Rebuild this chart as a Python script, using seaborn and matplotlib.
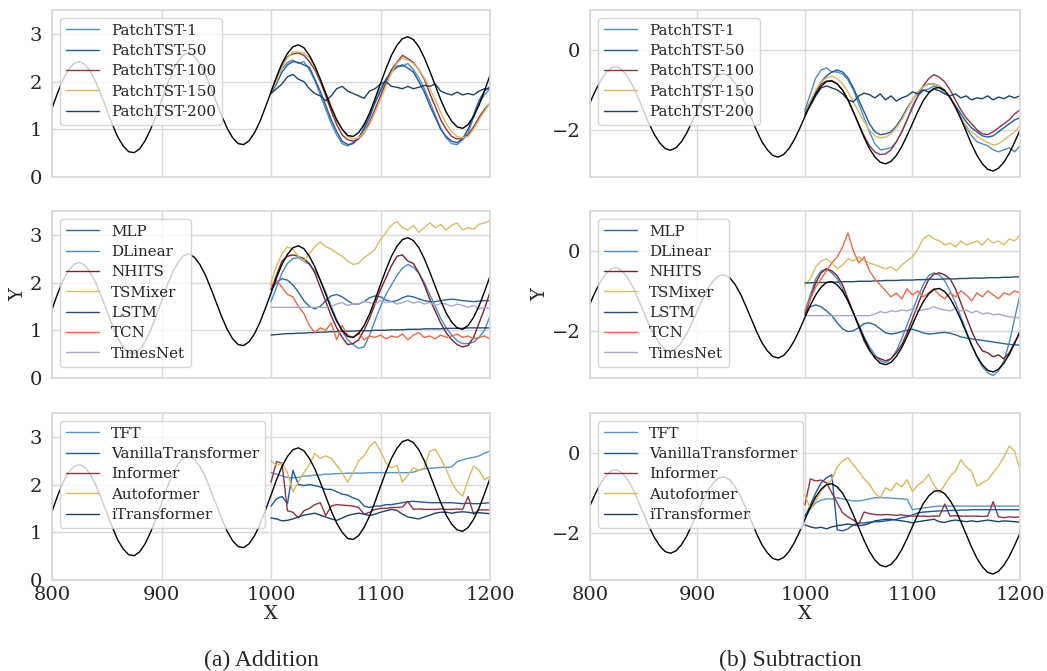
import matplotlib
matplotlib.use("Agg")
import matplotlib.pyplot as plt
import numpy as np
import seaborn as sns

# x positions (history 800-1200, forecasts 1000-1200)
x_truth = np.arange(800, 1201, 5)
x_pred = np.arange(1000, 1201, 5)

# ground truth
truth_add = [1.44, 1.76, 2.04, 2.25, 2.38, 2.42, 2.36, 2.21, 1.99, 1.71,
             1.41, 1.11, 0.84, 0.65, 0.53, 0.51, 0.59, 0.76, 1.00, 1.29,
             1.61, 1.93, 2.21, 2.42, 2.56, 2.60, 2.53, 2.38, 2.16, 1.88,
             1.58, 1.28, 1.02, 0.82, 0.70, 0.68, 0.76, 0.93, 1.17, 1.47,
             1.78, 2.10, 2.38, 2.59, 2.73, 2.77, 2.71, 2.55, 2.33, 2.05,
             1.75, 1.45, 1.19, 1.00, 0.87, 0.85, 0.93, 1.10, 1.34, 1.64,
             1.96, 2.27, 2.55, 2.76, 2.90, 2.94, 2.88, 2.73, 2.50, 2.22,
             1.92, 1.62, 1.36, 1.17, 1.05, 1.02, 1.10, 1.27, 1.51, 1.81,
             2.13]
truth_sub = [-1.32, -1.02, -0.76, -0.57, -0.44, -0.42, -0.50, -0.67, -0.91, -1.21,
             -1.53, -1.85, -2.12, -2.33, -2.47, -2.51, -2.45, -2.30, -2.08, -1.79,
             -1.49, -1.19, -0.93, -0.74, -0.62, -0.60, -0.67, -0.84, -1.08, -1.38,
             -1.70, -2.02, -2.30, -2.50, -2.64, -2.68, -2.62, -2.47, -2.25, -1.97,
             -1.66, -1.36, -1.10, -0.91, -0.79, -0.77, -0.85, -1.01, -1.25, -1.55,
             -1.87, -2.19, -2.47, -2.68, -2.81, -2.85, -2.79, -2.64, -2.42, -2.14,
             -1.84, -1.54, -1.27, -1.08, -0.96, -0.94, -1.02, -1.19, -1.43, -1.72,
             -2.04, -2.36, -2.64, -2.85, -2.99, -3.03, -2.96, -2.81, -2.59, -2.31,
             -2.01]

# ---- row 1: PatchTST with different patch sizes ----
patch_names = ["PatchTST-1", "PatchTST-50", "PatchTST-100", "PatchTST-150", "PatchTST-200"]
patch_colors = ["#4f8dbb", "#1f5aa0", "#8f3445", "#dcb95f", "#1d4266"]

p1_add = [1.80, 2.05, 2.28, 2.40, 2.45, 2.38, 2.42, 2.25, 2.02, 1.72,
          1.42, 1.12, 0.88, 0.70, 0.65, 0.72, 0.80, 1.05, 1.30, 1.58,
          1.85, 2.05, 2.22, 2.33, 2.32, 2.38, 2.25, 2.08, 1.85, 1.58,
          1.30, 1.02, 0.82, 0.70, 0.68, 0.78, 0.92, 1.25, 1.55, 1.72,
          1.85]
p50_add = [1.75, 1.95, 2.20, 2.35, 2.42, 2.40, 2.35, 2.30, 2.05, 1.80,
           1.50, 1.20, 0.95, 0.75, 0.68, 0.70, 0.82, 1.00, 1.25, 1.55,
           1.80, 2.05, 2.20, 2.30, 2.35, 2.28, 2.20, 2.00, 1.78, 1.50,
           1.25, 1.00, 0.85, 0.75, 0.72, 0.80, 1.00, 1.30, 1.60, 1.80,
           1.90]
p100_add = [1.78, 2.05, 2.35, 2.52, 2.58, 2.60, 2.55, 2.42, 2.25, 2.00,
            1.70, 1.38, 1.10, 0.88, 0.78, 0.75, 0.80, 0.92, 1.15, 1.42,
            1.70, 1.98, 2.25, 2.40, 2.55, 2.48, 2.40, 2.25, 2.05, 1.75,
            1.48, 1.20, 1.00, 0.85, 0.80, 0.80, 0.88, 1.05, 1.25, 1.42,
            1.55]
p150_add = [1.78, 2.00, 2.30, 2.50, 2.62, 2.62, 2.60, 2.50, 2.30, 2.05,
            1.78, 1.50, 1.22, 1.00, 0.85, 0.80, 0.82, 0.92, 1.10, 1.35,
            1.62, 1.90, 2.18, 2.38, 2.50, 2.45, 2.38, 2.25, 2.08, 1.85,
            1.62, 1.35, 1.12, 0.95, 0.85, 0.82, 0.85, 1.00, 1.20, 1.38,
            1.55]
p200_add = [1.75, 1.85, 1.95, 2.10, 2.15, 2.05, 2.00, 1.85, 1.75, 1.70,
            1.60, 1.70, 1.85, 1.90, 1.80, 1.75, 1.70, 1.65, 1.80, 1.85,
            1.95, 2.00, 1.90, 1.88, 1.85, 1.90, 1.85, 1.88, 1.92, 1.90,
            1.95, 1.80, 1.75, 1.72, 1.78, 1.72, 1.75, 1.72, 1.80, 1.85,
            1.85]

p1_sub = [-1.50, -1.10, -0.70, -0.50, -0.45, -0.55, -0.55, -0.60, -0.75, -1.00,
          -1.35, -1.70, -2.05, -2.35, -2.50, -2.48, -2.45, -2.30, -2.05, -1.75,
          -1.40, -1.15, -1.02, -0.98, -0.90, -0.95, -1.05, -1.20, -1.45, -1.70,
          -1.95, -2.15, -2.30, -2.35, -2.40, -2.50, -2.55, -2.50, -2.45, -2.55,
          -2.40]
p50_sub = [-1.55, -1.30, -1.05, -0.80, -0.65, -0.55, -0.50, -0.55, -0.70, -0.95,
           -1.25, -1.55, -1.85, -2.05, -2.12, -2.10, -2.05, -1.90, -1.70, -1.45,
           -1.25, -1.05, -0.92, -0.85, -0.85, -0.90, -1.00, -1.20, -1.40, -1.60,
           -1.80, -1.95, -2.05, -2.15, -2.18, -2.15, -2.05, -1.95, -1.85, -1.75,
           -1.70]
p100_sub = [-1.65, -1.35, -1.05, -0.85, -0.78, -0.78, -0.85, -1.00, -1.25, -1.55,
            -1.85, -2.15, -2.40, -2.55, -2.62, -2.60, -2.50, -2.30, -2.05, -1.75,
            -1.45, -1.15, -0.90, -0.72, -0.62, -0.68, -0.80, -1.00, -1.25, -1.50,
            -1.70, -1.85, -2.00, -2.10, -2.12, -2.05, -1.95, -1.85, -1.75, -1.60,
            -1.50]
p150_sub = [-1.60, -1.30, -1.00, -0.80, -0.70, -0.65, -0.72, -0.85, -1.05, -1.30,
            -1.55, -1.80, -2.00, -2.15, -2.20, -2.18, -2.10, -1.95, -1.75, -1.50,
            -1.25, -1.05, -0.92, -0.85, -0.85, -0.90, -1.02, -1.20, -1.45, -1.70,
            -1.90, -2.05, -2.15, -2.25, -2.32, -2.38, -2.35, -2.25, -2.15, -2.05,
            -1.90]
p200_sub = [-1.60, -1.40, -1.15, -0.95, -0.90, -0.95, -1.00, -1.10, -1.25, -1.30,
            -1.15, -1.08, -1.12, -1.20, -1.10, -1.25, -1.15, -1.28, -1.20, -1.15,
            -1.05, -1.10, -1.00, -1.05, -0.98, -1.02, -1.10, -1.15, -1.10, -1.20,
            -1.15, -1.25, -1.20, -1.22, -1.15, -1.25, -1.18, -1.22, -1.15, -1.20,
            -1.15]

# ---- row 2: MLP / linear / conv / recurrent models ----
base_names = ["MLP", "DLinear", "NHITS", "TSMixer", "LSTM", "TCN", "TimesNet"]
base_colors = ["#2b64a0", "#4a8cc2", "#7b2131", "#d9bd62", "#284a6c", "#ec6a4b", "#aba7c9"]

mlp_add = [1.85, 2.00, 2.08, 2.05, 1.95, 1.80, 1.62, 1.50, 1.45, 1.50,
           1.62, 1.72, 1.75, 1.70, 1.62, 1.55, 1.55, 1.60, 1.68, 1.72,
           1.70, 1.63, 1.60, 1.62, 1.68, 1.72, 1.70, 1.66, 1.62, 1.60,
           1.60, 1.62, 1.64, 1.65, 1.64, 1.62, 1.61, 1.60, 1.61, 1.62,
           1.62]
dlinear_add = [1.60, 1.90, 2.20, 2.40, 2.50, 2.52, 2.45, 2.38, 2.25, 2.05,
               1.80, 1.50, 1.22, 0.98, 0.80, 0.70, 0.62, 0.65, 0.90, 1.20,
               1.50, 1.75, 1.95, 2.15, 2.30, 2.38, 2.32, 2.20, 2.00, 1.75,
               1.50, 1.25, 1.05, 0.90, 0.78, 0.72, 0.72, 0.75, 0.85, 1.00,
               1.30]
nhits_add = [1.85, 2.15, 2.45, 2.55, 2.58, 2.55, 2.50, 2.40, 2.20, 1.90,
             1.60, 1.30, 1.05, 0.85, 0.70, 0.72, 0.80, 1.00, 1.25, 1.55,
             1.85, 2.10, 2.35, 2.55, 2.58, 2.45, 2.40, 2.20, 1.95, 1.65,
             1.40, 1.15, 0.95, 0.80, 0.70, 0.65, 0.68, 0.85, 1.15, 1.45,
             1.80]
tsmixer_add = [2.00, 2.35, 2.60, 2.75, 2.70, 2.55, 2.45, 2.60, 2.75, 2.85,
               2.75, 2.70, 2.62, 2.55, 2.45, 2.38, 2.40, 2.52, 2.60, 2.70,
               2.90, 3.05, 3.20, 3.28, 3.15, 3.10, 3.20, 3.05, 3.15, 3.25,
               3.15, 3.22, 3.10, 3.20, 3.25, 3.10, 3.15, 3.12, 3.22, 3.25,
               3.30]
lstm_add = [0.90, 0.91, 0.92, 0.93, 0.93, 0.94, 0.94, 0.95, 0.95, 0.96,
            0.96, 0.97, 0.97, 0.98, 0.98, 0.98, 0.99, 0.99, 0.99, 1.00,
            1.00, 1.00, 1.01, 1.01, 1.01, 1.02, 1.02, 1.02, 1.03, 1.03,
            1.03, 1.03, 1.04, 1.04, 1.04, 1.04, 1.05, 1.05, 1.05, 1.05,
            1.05]
tcn_add = [1.95, 2.05, 1.90, 1.75, 1.70, 1.50, 1.35, 1.10, 0.95, 1.05,
           1.00, 1.15, 0.80, 1.10, 0.90, 0.85, 0.95, 0.80, 0.88, 0.85,
           0.90, 0.82, 0.88, 0.85, 0.92, 0.80, 0.90, 0.95, 0.85, 0.88,
           0.82, 0.90, 0.85, 0.88, 0.92, 0.85, 0.88, 0.82, 0.85, 0.88,
           0.82]
timesnet_add = [1.48, 1.48, 1.48, 1.48, 1.48, 1.48, 1.48, 1.48, 1.48, 1.48,
                1.48, 1.50, 1.55, 1.58, 1.52, 1.56, 1.55, 1.60, 1.58, 1.55,
                1.62, 1.58, 1.60, 1.55, 1.58, 1.62, 1.57, 1.60, 1.55, 1.58,
                1.52, 1.56, 1.55, 1.50, 1.55, 1.52, 1.48, 1.52, 1.45, 1.48,
                1.45]

mlp_sub = [-1.55, -1.40, -1.35, -1.40, -1.50, -1.62, -1.80, -1.95, -2.02, -2.00,
           -1.92, -1.82, -1.80, -1.85, -1.95, -2.05, -2.08, -2.06, -2.02, -1.98,
           -1.96, -2.00, -2.05, -2.08, -2.07, -2.05, -2.04, -2.06, -2.10, -2.15,
           -2.18, -2.20, -2.22, -2.24, -2.26, -2.28, -2.30, -2.32, -2.34, -2.35,
           -2.36]
dlinear_sub = [-1.50, -1.10, -0.70, -0.50, -0.45, -0.55, -0.70, -0.95, -1.25, -1.55,
               -1.85, -2.15, -2.40, -2.60, -2.75, -2.80, -2.70, -2.50, -2.20, -1.85,
               -1.50, -1.15, -0.85, -0.62, -0.55, -0.60, -0.75, -1.00, -1.30, -1.65,
               -2.00, -2.35, -2.65, -2.90, -3.05, -3.12, -3.00, -2.75, -2.30, -1.70,
               -1.10]
nhits_sub = [-1.60, -1.20, -0.80, -0.55, -0.45, -0.50, -0.62, -0.85, -1.20, -1.55,
             -1.90, -2.25, -2.50, -2.65, -2.70, -2.75, -2.70, -2.55, -2.35, -2.05,
             -1.70, -1.35, -1.00, -0.72, -0.58, -0.55, -0.60, -0.70, -0.95, -1.30,
             -1.65, -2.00, -2.30, -2.50, -2.55, -2.65, -2.60, -2.70, -2.55, -2.30,
             -2.05]
tsmixer_sub = [-0.85, -0.70, -0.40, -0.25, -0.20, -0.30, -0.45, -0.35, -0.20, -0.25,
               -0.15, -0.25, -0.30, -0.35, -0.40, -0.45, -0.40, -0.50, -0.35, -0.25,
               -0.15, 0.05, 0.30, 0.40, 0.30, 0.25, 0.15, 0.20, 0.10, 0.25,
               0.15, 0.20, 0.25, 0.15, 0.30, 0.20, 0.25, 0.15, 0.30, 0.25,
               0.40]
lstm_sub = [-0.80, -0.80, -0.79, -0.79, -0.79, -0.78, -0.78, -0.77, -0.77, -0.77,
            -0.76, -0.76, -0.76, -0.75, -0.75, -0.74, -0.74, -0.74, -0.73, -0.73,
            -0.73, -0.72, -0.72, -0.71, -0.71, -0.71, -0.70, -0.70, -0.70, -0.69,
            -0.69, -0.68, -0.68, -0.68, -0.67, -0.67, -0.67, -0.66, -0.66, -0.65,
            -0.65]
tcn_sub = [-1.50, -1.20, -0.90, -0.70, -0.50, -0.30, -0.15, 0.10, 0.45, 0.00,
           -0.30, -0.15, -0.50, -0.70, -0.85, -1.00, -1.15, -1.05, -1.20, -0.95,
           -1.10, -1.00, -1.15, -1.05, -0.95, -1.10, -1.20, -1.05, -1.15, -1.00,
           -1.10, -1.25, -1.05, -1.15, -1.00, -1.10, -1.20, -1.05, -1.10, -1.00,
           -1.05]
timesnet_sub = [-1.62, -1.62, -1.62, -1.62, -1.62, -1.62, -1.62, -1.62, -1.62, -1.62,
                -1.62, -1.62, -1.62, -1.58, -1.52, -1.55, -1.50, -1.52, -1.48, -1.50,
                -1.45, -1.50, -1.47, -1.45, -1.40, -1.45, -1.48, -1.50, -1.45, -1.50,
                -1.48, -1.55, -1.50, -1.58, -1.55, -1.60, -1.58, -1.62, -1.65, -1.66,
                -1.68]

# ---- row 3: transformer models ----
trans_names = ["TFT", "VanillaTransformer", "Informer", "Autoformer", "iTransformer"]
trans_colors = ["#5a94c0", "#1f58a0", "#8f3445", "#dbb85a", "#1d4266"]

tft_add = [2.25, 2.22, 2.18, 2.15, 2.14, 2.15, 2.18, 2.18, 2.20, 2.20,
           2.22, 2.22, 2.23, 2.23, 2.24, 2.24, 2.24, 2.24, 2.25, 2.25,
           2.25, 2.25, 2.25, 2.25, 2.25, 2.25, 2.26, 2.30, 2.33, 2.34,
           2.35, 2.36, 2.36, 2.37, 2.48, 2.52, 2.55, 2.57, 2.60, 2.66,
           2.70]
vanilla_add = [1.55, 1.70, 1.75, 1.60, 2.30, 2.00, 1.98, 2.00, 1.98, 1.95,
               1.90, 1.90, 1.85, 1.80, 1.78, 1.72, 1.68, 1.55, 1.52, 1.55,
               1.55, 1.58, 1.58, 1.60, 1.62, 1.64, 1.65, 1.64, 1.63, 1.62,
               1.62, 1.62, 1.62, 1.62, 1.61, 1.60, 1.61, 1.60, 1.60, 1.61,
               1.62]
informer_add = [2.05, 2.48, 2.45, 1.45, 1.42, 1.30, 1.45, 1.50, 1.58, 1.62,
                1.35, 1.55, 1.58, 1.57, 1.56, 1.55, 1.52, 1.38, 1.42, 1.48,
                1.50, 1.50, 1.52, 1.52, 1.53, 1.65, 1.48, 1.49, 1.48, 1.48,
                1.48, 1.49, 1.48, 1.48, 1.49, 1.48, 1.75, 1.38, 1.47, 1.47,
                1.47]
autoformer_add = [2.50, 2.40, 2.45, 2.25, 1.85, 2.05, 2.25, 2.42, 2.65, 2.55,
                  2.60, 2.55, 2.40, 2.25, 2.05, 2.25, 2.50, 2.60, 2.80, 2.90,
                  2.70, 2.45, 2.35, 2.40, 2.05, 2.20, 2.35, 2.30, 2.35, 2.70,
                  2.74, 2.55, 2.32, 2.05, 1.86, 1.76, 2.10, 2.39, 2.30, 2.10,
                  2.18]
itrans_add = [1.30, 1.28, 1.24, 1.25, 1.28, 1.32, 1.36, 1.38, 1.40, 1.36,
              1.32, 1.28, 1.25, 1.30, 1.35, 1.38, 1.40, 1.38, 1.35, 1.38,
              1.42, 1.45, 1.48, 1.46, 1.38, 1.32, 1.30, 1.28, 1.32, 1.36,
              1.40, 1.42, 1.42, 1.40, 1.42, 1.43, 1.42, 1.40, 1.41, 1.40,
              1.39]

tft_sub = [-1.55, -1.40, -1.25, -1.18, -1.15, -1.15, -1.12, -1.15, -1.18, -1.20,
           -1.20, -1.18, -1.15, -1.12, -1.12, -1.12, -1.13, -1.14, -1.15, -1.16,
           -1.42, -1.40, -1.38, -1.36, -1.34, -1.33, -1.33, -1.33, -1.33, -1.33,
           -1.33, -1.33, -1.33, -1.33, -1.33, -1.33, -1.33, -1.33, -1.33, -1.33,
           -1.33]
vanilla_sub = [-1.60, -1.30, -1.00, -0.75, -0.62, -0.55, -1.92, -1.95, -1.90, -1.80,
               -1.75, -1.75, -1.73, -1.72, -1.72, -1.70, -1.68, -1.66, -1.62, -1.60,
               -1.55, -1.50, -1.48, -1.47, -1.46, -1.45, -1.45, -1.44, -1.44, -1.43,
               -1.43, -1.42, -1.42, -1.42, -1.42, -1.42, -1.42, -1.42, -1.42, -1.42,
               -1.42]
informer_sub = [-1.30, -0.65, -0.70, -0.68, -0.75, -1.00, -1.25, -1.50, -1.60, -1.68,
                -1.78, -1.48, -1.52, -1.54, -1.55, -1.54, -1.55, -1.56, -1.55, -1.57,
                -1.58, -1.58, -1.58, -1.59, -1.58, -1.58, -1.28, -1.58, -1.57, -1.58,
                -1.58, -1.58, -1.58, -1.59, -1.58, -1.22, -1.60, -1.62, -1.60, -1.61,
                -1.60]
autoformer_sub = [-1.05, -1.40, -1.20, -0.95, -0.80, -0.67, -0.35, -0.20, -0.12, -0.30,
                  -0.46, -0.65, -0.79, -1.00, -1.12, -0.87, -0.95, -0.75, -0.85, -0.67,
                  -0.96, -0.80, -0.71, -0.54, -0.80, -1.00, -0.80, -0.58, -0.45, -0.17,
                  -0.35, -0.46, -0.83, -0.75, -0.67, -0.50, -0.33, -0.10, 0.17, 0.04,
                  -0.42]
itrans_sub = [-1.80, -1.85, -1.88, -1.86, -1.90, -1.85, -1.82, -1.80, -1.78, -1.80,
              -1.82, -1.80, -1.76, -1.70, -1.68, -1.66, -1.66, -1.68, -1.70, -1.72,
              -1.75, -1.72, -1.70, -1.68, -1.66, -1.72, -1.74, -1.70, -1.68, -1.70,
              -1.72, -1.70, -1.72, -1.70, -1.68, -1.70, -1.72, -1.70, -1.71, -1.72,
              -1.73]

rows = [
    (patch_names, patch_colors,
     [p1_add, p50_add, p100_add, p150_add, p200_add],
     [p1_sub, p50_sub, p100_sub, p150_sub, p200_sub]),
    (base_names, base_colors,
     [mlp_add, dlinear_add, nhits_add, tsmixer_add, lstm_add, tcn_add, timesnet_add],
     [mlp_sub, dlinear_sub, nhits_sub, tsmixer_sub, lstm_sub, tcn_sub, timesnet_sub]),
    (trans_names, trans_colors,
     [tft_add, vanilla_add, informer_add, autoformer_add, itrans_add],
     [tft_sub, vanilla_sub, informer_sub, autoformer_sub, itrans_sub]),
]

sns.set_theme(style="whitegrid")
plt.rcParams["font.family"] = ["DejaVu Serif"]
plt.rcParams["axes.edgecolor"] = "#d9d9d9"
plt.rcParams["grid.color"] = "#d9d9d9"

fig = plt.figure(figsize=(10.47, 6.71), dpi=100)

col_x = [0.0497, 0.5635]
col_w = [0.4183, 0.4107]
row_y = [0.7362, 0.4367, 0.1356]
row_h = 0.2489
truths = [truth_add, truth_sub]
ylims = [(0, 3.5), (-3.18, 1.0)]
yticks = [[0, 1, 2, 3], [-2, 0]]

for r, (names, colors, adds, subs) in enumerate(rows):
    for c in range(2):
        ax = fig.add_axes([col_x[c], row_y[r], col_w[c], row_h])
        series = adds if c == 0 else subs
        for name, color, vals in zip(names, colors, series):
            sns.lineplot(x=x_pred, y=vals, ax=ax, color=color, lw=1.0, label=name)
        sns.lineplot(x=x_truth, y=truths[c], ax=ax, color="black", lw=1.0)
        ax.set_xlim(800, 1200)
        ax.set_ylim(*ylims[c])
        ax.set_xticks([800, 900, 1000, 1100, 1200])
        ax.set_yticks(yticks[c])
        ax.tick_params(labelsize=14, pad=1)
        ax.tick_params(axis="x", pad=-2)
        ax.legend(loc="upper left", fontsize=10.9, frameon=True, framealpha=0.8,
                  labelspacing=0.42, handlelength=2.2, borderaxespad=0.5)
        if r < 2:
            ax.tick_params(labelbottom=False)
            ax.set_xlabel("")
        else:
            ax.set_xlabel("X", fontsize=14, labelpad=1)
        if r == 1:
            ax.set_ylabel("Y", fontsize=14, labelpad=2)
        else:
            ax.set_ylabel("")

fig.text(0.25, 0.008, "(a) Addition", ha="center", fontsize=17, family="Liberation Serif")
fig.text(0.755, 0.008, "(b) Subtraction", ha="center", fontsize=17, family="Liberation Serif")

fig.savefig("out.png", dpi=100)
